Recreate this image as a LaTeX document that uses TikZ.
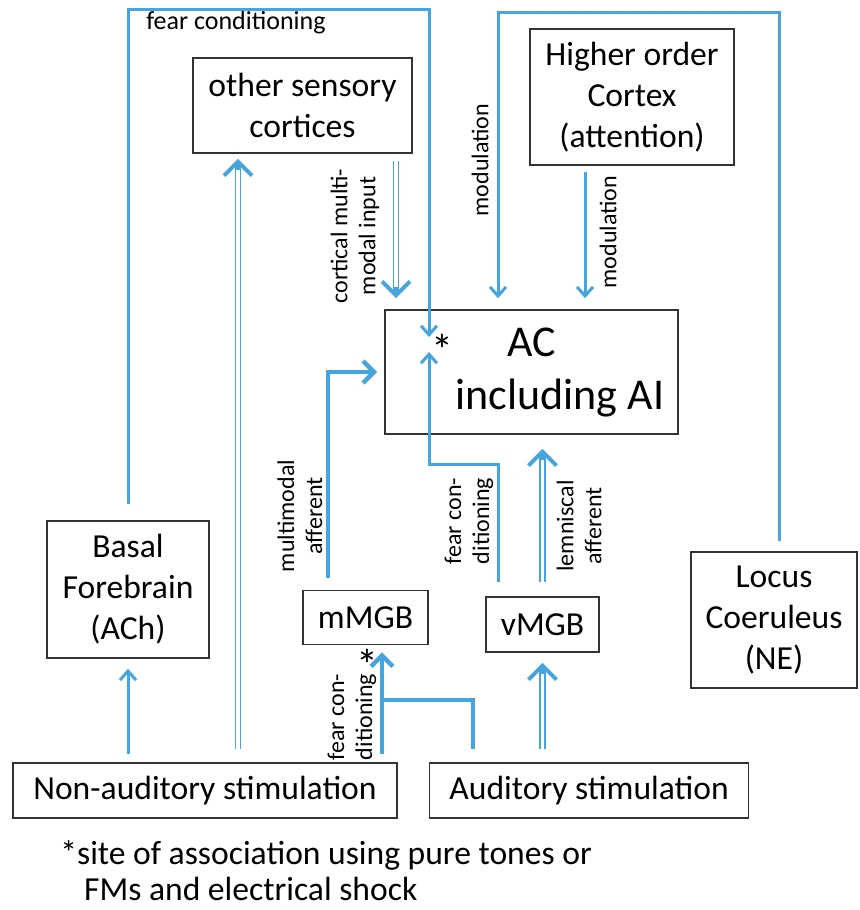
\documentclass[tikz,border=0pt]{standalone}
\usepackage{fontspec}
\setmainfont{Carlito}
\usepackage{tikz}
\usetikzlibrary{positioning,arrows.meta}
\definecolor{fibre}{RGB}{70,165,222}

\begin{document}
\begin{tikzpicture}[x=0.5pt, y=-0.5pt, node distance=15.5pt,
  region/.style={draw=black!80, line width=0.8pt, align=center, inner sep=0pt,
    font=\fontsize{16.8}{20.5}\selectfont},
  wire/.style={draw=fibre, line width=1.5pt, -{Straight Barb[length=4.5pt,width=8pt]}},
  heavy/.style={wire, line width=2.2pt, -{Straight Barb[length=5.5pt,width=11pt]}},
  twin/.style={draw=fibre, line width=3.2pt,
    -{Straight Barb[length=7pt,width=14pt,line width=2pt]},
    postaction={draw=white, line width=1.6pt, -, shorten >=#1}},
  note/.style={font=\fontsize{12}{14}\selectfont, align=center, inner sep=0pt},
  vnote/.style={note, rotate=90},
  site/.style={font=\fontsize{22}{24}\selectfont, inner sep=0pt}]

\useasboundingbox (0,0) rectangle (860,910);

% boxes
\node (oth) [region, minimum width=109.5pt, minimum height=47.5pt] at (302.5,105.5)
{other sensory\\cortices};
\node (hoc) [region, minimum width=102pt, minimum height=68pt] at (632,97)
{Higher order\\Cortex\\(attention)};
\node (ac) [region, minimum width=146.5pt, minimum height=62pt,
  font=\fontsize{22}{26.5}\selectfont] at (531.5,372)
{AC\\\hspace*{28.5pt}including AI};
\node (bf) [region, minimum width=81pt, minimum height=68.5pt] at (128,589.5)
{Basal\\Forebrain\\(ACh)};
\node (mmgb) [region, minimum width=62.5pt, minimum height=27pt] at (365.5,617.5) {mMGB};
\node (vmgb) [region, minimum width=56.5pt, minimum height=27.5pt] at (542.5,624.5) {vMGB};
\node (lc) [region, minimum width=83pt, minimum height=68pt] at (774,620)
{Locus\\Coeruleus\\(NE)};
\node (nas) [region, minimum width=192pt, minimum height=27.5pt] at (205,790.5)
{Non-auditory stimulation};
\node (as) [region, minimum width=159.5pt, minimum height=27.5pt, right=of nas]
{Auditory stimulation};

% corners of the long fibres
\coordinate (fctop) at (429,9);
\coordinate (sitein) at (429,337);
\coordinate (siteout) at (429,352);
\coordinate (fcmid) at (429,464);
\coordinate (modtop) at (498,12);
\coordinate (fcjoin) at (382,700);

% fibres
\draw[wire, shorten <=8pt] (bf.north) |- (fctop) -- (sitein);
\draw[wire, shorten <=5pt, shorten >=5.5pt] (lc.north -| 779,0) |- (modtop) -- (modtop |- ac.north);
\draw[wire, shorten <=3pt, shorten >=5.5pt] (hoc.south -| 585,0) -- (ac.north -| 585,0);
\draw[twin=11pt, shorten <=3.5pt, shorten >=5.5pt] (oth.south -| 396,0) -- (ac.north -| 396,0);
\draw[twin=8pt, shorten <=6.5pt, shorten >=2.5pt] (nas.north -| 238,0) -- (oth.south -| 238,0);
\draw[wire, shorten <=4pt, shorten >=5pt] (nas.north -| bf.south) -- (bf.south);
\draw[heavy, shorten <=6pt, shorten >=3.5pt] (mmgb.north -| 328,0) |- (ac.west);
\draw[twin=12.5pt, shorten <=7pt, shorten >=7pt] (vmgb.north) -- (vmgb.north |- ac.south);
\draw[wire, shorten <=7pt] (vmgb.north -| 498,0) |- (fcmid) -- (siteout);
\draw[twin=10.5pt, shorten <=6.5pt, shorten >=5pt] (as.north -| vmgb.south) -- (vmgb.south);
\draw[heavy, shorten <=4pt, shorten >=3.5pt] (nas.north -| 382,0) -- (mmgb.south -| 382,0);
\draw[heavy, -, shorten <=6.5pt] (as.north -| 473,0) |- (fcjoin);

% labels
\node (lfear) [note, font=\fontsize{13}{15}\selectfont] at (236,23) {fear conditioning};
\node (lmod) [vnote] at (480,160) {modulation};
\node (lmodh) [vnote] at (608,232) {modulation};
\node (lcort) [vnote] at (355,236) {cortical multi-\\modal input};
\node (lmulti) [vnote] at (300,516) {multimodal\\afferent};
\node (lfcv) [vnote] at (469,521) {fear con-\\ditioning};
\node (llem) [vnote] at (579,526) {lemniscal\\afferent};
\node (lfcm) [vnote] at (352,717) {fear con-\\ditioning};
\node (stara) [site] at (442,350) {*};
\node (starm) [site] at (367,665) {*};
\node (foot) [anchor=north west, align=left, inner sep=0pt,
  font=\fontsize{16.8}{18}\selectfont] at (60,840)
{*site of association using pure tones or\\\phantom{*}\hspace*{3.5pt}FMs and electrical shock};

\end{tikzpicture}
\end{document}
